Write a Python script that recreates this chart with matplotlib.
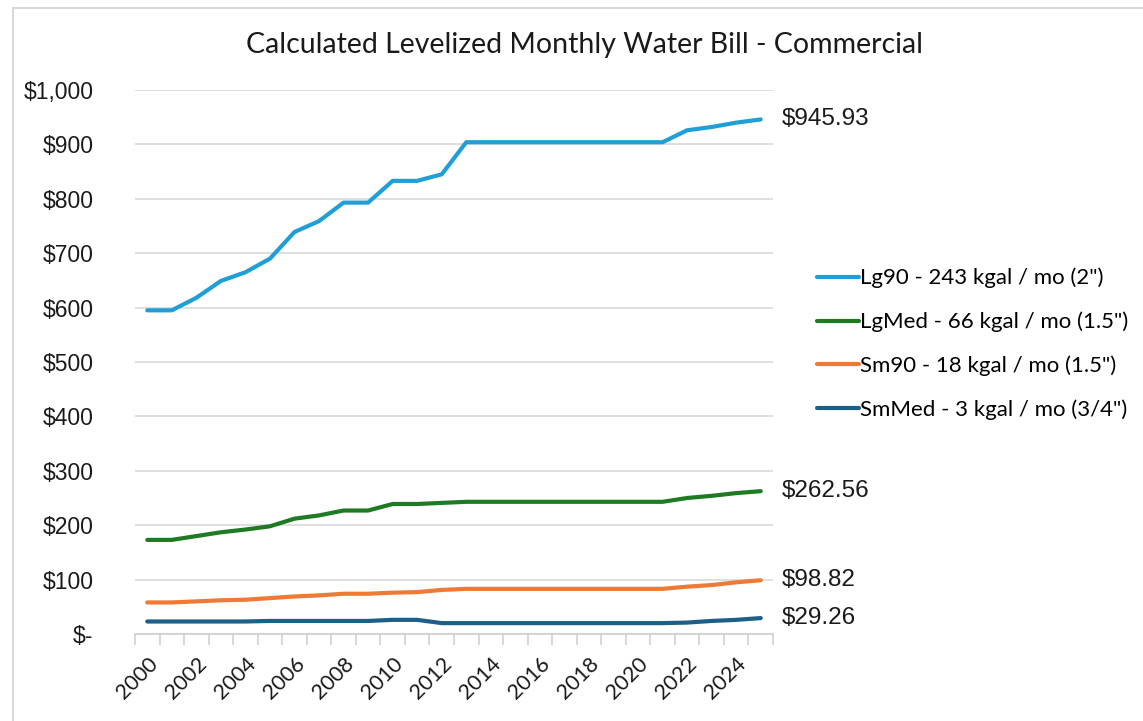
import matplotlib
matplotlib.use("Agg")
from matplotlib import pyplot as plt
from matplotlib.patches import Rectangle

# 年份
years = list(range(2000, 2026))

lg90 = [595, 595, 618, 649, 665, 690, 739, 759, 793, 793, 833, 833, 845,
        904, 904, 904, 904, 904, 904, 904, 904, 904, 926, 932, 940, 945.93]
lgmed = [173, 173, 180, 187, 192, 198, 212, 218, 227, 227, 239, 239, 241,
         243, 243, 243, 243, 243, 243, 243, 243, 243, 250, 254, 259, 262.56]
sm90 = [58, 58, 60, 62, 63, 66, 69, 71, 74, 74, 76, 77, 81,
        83, 83, 83, 83, 83, 83, 83, 83, 83, 87, 90, 95, 98.82]
smmed = [23, 23, 23, 23, 23, 24, 24, 24, 24, 24, 26, 26, 20,
         20, 20, 20, 20, 20, 20, 20, 20, 20, 21, 24, 26, 29.26]

names = ['Lg90 - 243 kgal / mo (2")', 'LgMed - 66 kgal / mo (1.5")',
         'Sm90 - 18 kgal / mo (1.5")', 'SmMed - 3 kgal / mo (3/4")']
colors = ['#1f9fd5', '#1f7a24', '#ef7a35', '#1d5f88']
end_labels = ['$945.93', '$262.56', '$98.82', '$29.26']

fig = plt.figure(figsize=(11.43, 7.21), dpi=100)
# 外框
fig.patches.append(Rectangle((13 / 1143, -0.1), 1.2, 1 - 8 / 721 + 0.1,
                             transform=fig.transFigure, fill=False,
                             edgecolor='#d9d9d9', linewidth=1.5))

ax = fig.add_axes([135 / 1143, 1 - 634 / 721, (773 - 135) / 1143, (634 - 90) / 721])
x = list(range(len(years)))
for vals, name, c, lab in zip([lg90, lgmed, sm90, smmed], names, colors, end_labels):
    ax.plot(x, vals, color=c, linewidth=3, label=name, solid_capstyle='round')
    ax.text(x[-1] + 0.85, vals[-1], lab, va='center', ha='left', fontsize=17.5,
            family='Liberation Sans', color='#1a1a1a')

ax.set_xlim(-0.5, len(years) - 0.5)
ax.set_ylim(0, 1000)
yt = list(range(0, 1001, 100))
ax.set_yticks(yt)
ax.set_yticklabels(['$-'] + ['${:,}'.format(v) for v in yt[1:]],
                   fontsize=16.5, family='Liberation Sans', color='#1a1a1a')
ax.tick_params(axis='y', length=0, pad=30)
ax.grid(axis='y', color='#d9d9d9', linewidth=1.2)
ax.set_axisbelow(True)

ax.set_xticks(x[::2])
ax.set_xticklabels([str(y) for y in years[::2]], rotation=45, ha='right',
                   rotation_mode='anchor', fontsize=15.5, family='Lato', color='#1a1a1a')
ax.tick_params(axis='x', length=0, pad=14)
ax.set_xticks([i - 0.5 for i in range(len(years) + 1)], minor=True)
ax.tick_params(axis='x', which='minor', length=8, color='#d0d0d0', width=1.2)

for s in ['top', 'right', 'left']:
    ax.spines[s].set_visible(False)
ax.spines['bottom'].set_color('#d0d0d0')
ax.spines['bottom'].set_linewidth(1.2)

fig.text(584 / 1143, 1 - 45 / 721, 'Calculated Levelized Monthly Water Bill - Commercial',
         ha='center', va='center', fontsize=20.5, family='Lato', color='#1a1a1a')

leg = fig.legend(loc='center left', bbox_to_anchor=(797 / 1143, 1 - 344 / 721),
                 frameon=False, prop={'family': 'Lato', 'size': 16},
                 handlelength=1.9, handletextpad=0.05, labelspacing=1.05)

plt.savefig('out.png', dpi=100)
